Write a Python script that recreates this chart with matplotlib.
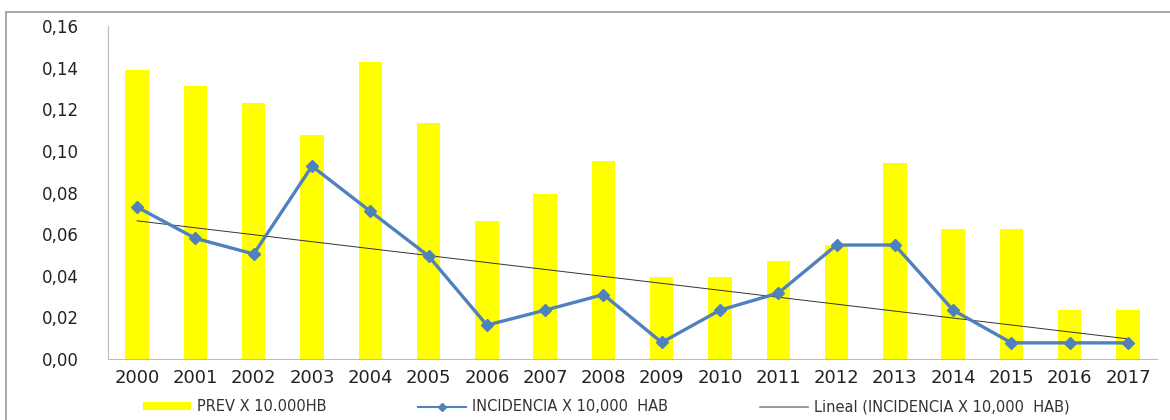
import numpy as np
import matplotlib
matplotlib.use("Agg")
import matplotlib.pyplot as plt
from matplotlib.patches import Rectangle
from matplotlib.ticker import FuncFormatter

# ========== datos ==========
years = [str(y) for y in range(2000, 2018)]
prev = [0.139, 0.131, 0.123, 0.1076, 0.1427, 0.1134, 0.0663, 0.0793, 0.0951,
        0.0394, 0.0394, 0.047, 0.055, 0.094, 0.0625, 0.0625, 0.0235, 0.0235]
incid = [0.073, 0.058, 0.0505, 0.0927, 0.071, 0.0495, 0.0163, 0.0235, 0.031,
         0.008, 0.0235, 0.0317, 0.0548, 0.0548, 0.0235, 0.0078, 0.0078, 0.0078]
yticks = [0, 0.02, 0.04, 0.06, 0.08, 0.10, 0.12, 0.14, 0.16]

fig = plt.figure(figsize=(11.7, 4.2), dpi=100)
ax = fig.add_axes([0.0923, 0.145, 0.8967, 0.793])

x = np.arange(len(years))
h1 = ax.bar(x, prev, width=0.4, color="#FFFF00", label="PREV X 10.000HB", zorder=1)
h2, = ax.plot(x, incid, color="#4F81BD", lw=2.4, marker="D", ms=6.5,
              label="INCIDENCIA X 10,000  HAB", zorder=3)

# tendencia lineal (ajuste de la serie de incidencia)
k, b = np.polyfit(x, incid, 1)
h3, = ax.plot(x, k * x + b, color="#333333", lw=0.7,
              label="Lineal (INCIDENCIA X 10,000  HAB)", zorder=2)

ax.set_xlim(-0.5, len(years) - 0.5)
ax.set_ylim(0, 0.16)
ax.set_yticks(yticks)
ax.yaxis.set_major_formatter(FuncFormatter(lambda v, p: f"{v:.2f}".replace(".", ",")))
ax.set_xticks(x)
ax.set_xticklabels(years)
ax.tick_params(axis="both", length=0, colors="#222222")
ax.tick_params(axis="y", labelsize=12, pad=21)
ax.tick_params(axis="x", labelsize=13, pad=7)
for s in ["top", "right"]:
    ax.spines[s].set_visible(False)
ax.spines["left"].set_color("#BBBBBB")
ax.spines["bottom"].set_color("#BBBBBB")

# leyenda con marcadores pequeños
lg2, = ax.plot([], [], color="#4F81BD", lw=1.5, marker="D", ms=4)
lg3, = ax.plot([], [], color="#888888", lw=1.2)
leg = fig.legend([h1, lg2, lg3], [h1.get_label(), h2.get_label(), h3.get_label()],
                 loc="center", bbox_to_anchor=(0.518, 0.031), ncol=3, frameon=False,
                 fontsize=10.5, handlelength=3.3, handleheight=0.5,
                 columnspacing=6.3, handletextpad=0.4)
for t in leg.get_texts():
    t.set_color("#333333")

# marco del grafico
fig.patches.append(Rectangle((6 / 1170, -0.1), 1.2, 1.1 - 12 / 420, transform=fig.transFigure,
                             fill=False, edgecolor="#999999", lw=1.2))

plt.savefig("out.png", dpi=100)
plt.close()
